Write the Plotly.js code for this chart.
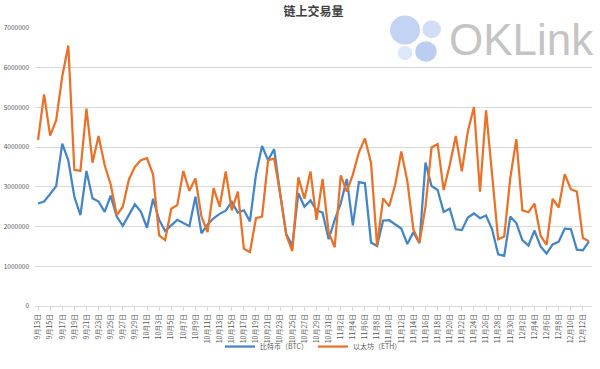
<!DOCTYPE html>
<html><head><meta charset="utf-8">
<script src="https://cdn.plot.ly/plotly-3.0.1.min.js"></script>
<style>html,body{margin:0;padding:0;background:#fff}#chart{width:600px;height:369px}</style>
</head><body><div id="chart"></div>
<script>
const dates = ["9月13日","9月14日","9月15日","9月16日","9月17日","9月18日","9月19日","9月20日","9月21日","9月22日","9月23日","9月24日","9月25日","9月26日","9月27日","9月28日","9月29日","9月30日",
"10月1日","10月2日","10月3日","10月4日","10月5日","10月6日","10月7日","10月8日","10月9日","10月10日","10月11日","10月12日","10月13日","10月14日","10月15日","10月16日","10月17日","10月18日","10月19日","10月20日","10月21日","10月22日","10月23日","10月24日","10月25日","10月26日","10月27日","10月28日","10月29日","10月30日","10月31日",
"11月1日","11月2日","11月3日","11月4日","11月5日","11月6日","11月7日","11月8日","11月9日","11月10日","11月11日","11月12日","11月13日","11月14日","11月15日","11月16日","11月17日","11月18日","11月19日","11月20日","11月21日","11月22日","11月23日","11月24日","11月25日","11月26日","11月27日","11月28日","11月29日","11月30日",
"12月1日","12月2日","12月3日","12月4日","12月5日","12月6日","12月7日","12月8日","12月9日","12月10日","12月11日","12月12日","12月13日"];
const tickLabels = ["9月13日","9月15日","9月17日","9月19日","9月21日","9月23日","9月25日","9月27日","9月29日","10月1日","10月3日","10月5日","10月7日","10月9日","10月11日","10月13日","10月15日","10月17日","10月19日","10月21日","10月23日","10月25日","10月27日","10月29日","10月31日","11月2日","11月4日","11月6日","11月8日","11月10日","11月12日","11月14日","11月16日","11月18日","11月20日","11月22日","11月24日","11月26日","11月28日","11月30日","12月2日","12月4日","12月6日","12月8日","12月10日","12月12日"];
const btc = [2580000,2630000,2820000,3020000,4090000,3670000,2750000,2290000,3400000,2710000,2630000,2370000,2780000,2250000,2020000,2290000,2560000,2370000,
1970000,2700000,2170000,1890000,2030000,2170000,2090000,2010000,2750000,1830000,2050000,2210000,2320000,2400000,2620000,2350000,2410000,2130000,3310000,4030000,3670000,3950000,2820000,1810000,1520000,2840000,2500000,2660000,2410000,2350000,1680000,
2170000,2580000,3200000,2030000,3120000,3090000,1600000,1510000,2150000,2160000,2050000,1950000,1560000,1860000,1580000,3610000,3020000,2920000,2370000,2450000,1930000,1910000,2230000,2330000,2210000,2280000,1930000,1300000,1260000,2250000,
2090000,1660000,1520000,1900000,1500000,1320000,1550000,1620000,1950000,1940000,1420000,1400000,1630000];
const eth = [4180000,5330000,4290000,4680000,5780000,6560000,3430000,3400000,4970000,3610000,4280000,3550000,3060000,2290000,2500000,3180000,3510000,3670000,
3720000,3310000,1780000,1660000,2450000,2540000,3400000,2900000,3210000,2250000,1860000,2970000,2500000,3390000,2410000,2880000,1440000,1360000,2210000,2250000,3670000,3710000,2820000,1780000,1380000,3240000,2700000,3390000,2170000,3200000,1850000,
1480000,3290000,2880000,3310000,3870000,4220000,3600000,1520000,2710000,2510000,3060000,3890000,3140000,1930000,1590000,2500000,3990000,4080000,2920000,3550000,4280000,3390000,4400000,5010000,2880000,4930000,3220000,1680000,1750000,3220000,
4200000,2410000,2360000,2580000,1770000,1540000,2700000,2480000,3320000,2940000,2880000,1710000,1630000];
const seriesNames = ["比特币（BTC）","以太坊（ETH）"];
const titleText = "链上交易量";
const watermark = "OKLink";

const cjk = "Noto Sans CJK SC, sans-serif";
const L = 35, T = 28, W = 557, H = 288;
function px(x){return (x - L)/W;}
function py(y){return (T + H - y)/H;}
function circ(cx, cy, r, color){
  return {type:'circle', xref:'paper', yref:'paper', x0:px(cx-r), x1:px(cx+r), y0:py(cy+r), y1:py(cy-r),
          fillcolor:color, line:{width:0}, layer:'above'};
}

const traces = [
  {x: dates, y: btc, name: seriesNames[0], type:'scatter', mode:'lines', line:{color:'#4585c5', width:2.25}},
  {x: dates, y: eth, name: seriesNames[1], type:'scatter', mode:'lines', line:{color:'#e97228', width:2.25}}
];

const layout = {
  width:600, height:369,
  margin:{l:L, r:600-L-W, t:T, b:369-T-H, pad:0},
  paper_bgcolor:'#fff', plot_bgcolor:'#fff',
  font:{family:cjk, color:'#595959'},
  title:{text:titleText, x:0.5, xref:'paper', xanchor:'center', y:1 - 12/369, yanchor:'middle',
         font:{family:cjk, size:12, color:'#404040', weight:'bold'}},
  xaxis:{type:'category', range:[-0.5, dates.length-0.5], tickmode:'array', tickvals:tickLabels, ticktext:tickLabels,
         tickangle:-90, tickfont:{size:7, family:cjk, color:'#595959'}, showline:true, linecolor:'#d9d9d9', linewidth:1,
         ticks:'outside', ticklen:4, tickcolor:'#d9d9d9', showgrid:false, zeroline:false, fixedrange:true, automargin:false},
  yaxis:{range:[0,7000000], dtick:1000000, tick0:0, tickformat:'d', tickfont:{size:6.5, family:cjk, color:'#595959'},
         showgrid:true, gridcolor:'#d9d9d9', gridwidth:1, zeroline:false, showline:false, ticks:'', ticklabelstandoff:5, automargin:false},
  showlegend:true,
  legend:{orientation:'h', x:0.5, xanchor:'center', y:py(358), yanchor:'middle', font:{size:7, family:cjk, color:'#595959'},
          bgcolor:'rgba(0,0,0,0)', itemwidth:30, tracegroupgap:0},
  shapes:[
    circ(405,30,15,'#c2d3f4'),
    circ(431.7,29.3,9.3,'#d2def8'),
    circ(405,54,7.3,'#dde7fa'),
    circ(426,52.3,10.7,'#bccdf2')
  ],
  annotations:[
    {text:watermark, xref:'paper', yref:'paper', x:px(447), y:py(40), xanchor:'left', yanchor:'middle', showarrow:false,
     font:{family:'Liberation Sans, Arial, sans-serif', size:44, color:'#c4c4c4'}}
  ]
};
Plotly.newPlot('chart', traces, layout, {staticPlot:true, displayModeBar:false});
</script></body></html>
